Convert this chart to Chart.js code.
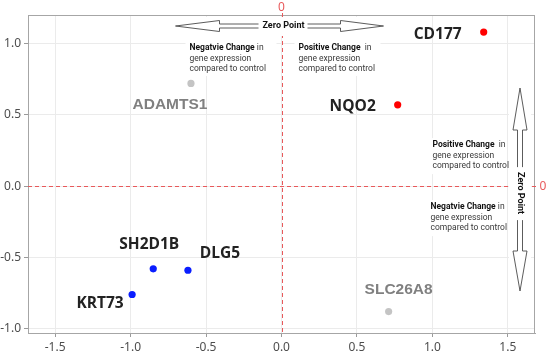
<!DOCTYPE html>
<html>
<head>
<meta charset="utf-8">
<script src="https://cdn.jsdelivr.net/npm/chart.js@4"></script>
<style>
    body { margin: 0; background: #fff; }
    canvas { display: block; }
</style>
</head>
<body>
<canvas id="geneChart" width="550" height="354"></canvas>
<script>
// Data
const genes = ["CD177", "NQO2", "ADAMTS1", "SH2D1B", "DLG5", "KRT73", "SLC26A8"];
const xValues = [1.34, 0.77, -0.60, -0.85, -0.62, -0.99, 0.71];
const yValues = [1.08, 0.57, 0.72, -0.58, -0.59, -0.76, -0.88];
const direction = ["up", "up", "none", "down", "down", "down", "none"];
const xTicks = [-1.5, -1.0, -0.5, 0.0, 0.5, 1.0, 1.5];
const yTicks = [-1.0, -0.5, 0.0, 0.5, 1.0];

// Styling
const dirColors = { up: "#ff0000", down: "#0a1eff", none: "#c4c4c4" };
const labelColors = { up: "#222", down: "#222", none: "#808080" };
// pixel offset of each gene label from its point
const labelOffsets = [[-46, 2], [-45, 2], [-21, 21], [-4, -24], [32, -17], [-32, 9], [10, -22]];

const ZERO_RED = "#e8595b";

function drawHollowArrow(ctx, x1, y1, x2, y2, shaft, head, headLen) {
    const len = Math.hypot(x2 - x1, y2 - y1);
    const ux = (x2 - x1) / len, uy = (y2 - y1) / len;
    const nx = -uy, ny = ux;
    const bx = x2 - ux * headLen, by = y2 - uy * headLen;
    ctx.beginPath();
    ctx.moveTo(x1 + nx * shaft, y1 + ny * shaft);
    ctx.lineTo(bx + nx * shaft, by + ny * shaft);
    ctx.lineTo(bx + nx * head, by + ny * head);
    ctx.lineTo(x2, y2);
    ctx.lineTo(bx - nx * head, by - ny * head);
    ctx.lineTo(bx - nx * shaft, by - ny * shaft);
    ctx.lineTo(x1 - nx * shaft, y1 - ny * shaft);
    ctx.fillStyle = "#fff";
    ctx.fill();
    ctx.strokeStyle = "#4a4a4a";
    ctx.lineWidth = 0.9;
    ctx.stroke();
}

function drawNote(ctx, x, y, boldPart, rest) {
    ctx.textAlign = "left";
    ctx.textBaseline = "middle";
    ctx.font = "bold 8.5px Roboto";
    ctx.fillStyle = "#111";
    ctx.fillText(boldPart, x, y);
    const w = ctx.measureText(boldPart).width;
    ctx.font = "8.5px Roboto";
    ctx.fillStyle = "#3a3a3a";
    ctx.fillText(rest, x + w, y);
    ctx.fillText("gene expression", x, y + 10.5);
    ctx.fillText("compared to control", x, y + 21);
}

const annotationPlugin = {
    id: "annotations",
    beforeDatasetsDraw(chart) {
        const { ctx, chartArea, scales } = chart;
        const x0 = scales.x.getPixelForValue(0);
        const y0 = scales.y.getPixelForValue(0);
        ctx.save();
        // top and right frame
        ctx.strokeStyle = "#a6a6a6";
        ctx.lineWidth = 1;
        ctx.beginPath();
        ctx.moveTo(chartArea.left, chartArea.top + 0.5);
        ctx.lineTo(chartArea.right, chartArea.top + 0.5);
        ctx.moveTo(chartArea.right - 0.5, chartArea.top);
        ctx.lineTo(chartArea.right - 0.5, chartArea.bottom);
        ctx.stroke();
        // red dashed zero lines
        ctx.strokeStyle = ZERO_RED;
        ctx.setLineDash([4, 3]);
        ctx.beginPath();
        ctx.moveTo(Math.round(x0) + 0.5, 13);
        ctx.lineTo(Math.round(x0) + 0.5, chartArea.bottom);
        ctx.moveTo(chartArea.left, Math.round(y0) + 0.5);
        ctx.lineTo(chartArea.right + 2, Math.round(y0) + 0.5);
        ctx.stroke();
        ctx.setLineDash([]);
        ctx.fillStyle = ZERO_RED;
        ctx.font = "12px 'Noto Sans'";
        ctx.textAlign = "center";
        ctx.textBaseline = "middle";
        ctx.fillText("0", x0, 8);
        ctx.fillText("0", chartArea.right + 8, y0);
        ctx.restore();
    },
    afterDatasetsDraw(chart) {
        const { ctx, chartArea, scales } = chart;
        const x0 = scales.x.getPixelForValue(0);
        const y0 = scales.y.getPixelForValue(0);
        const top = chartArea.top;
        const right = chartArea.right;
        ctx.save();

        // white boxes behind notes and arrows
        ctx.fillStyle = "#fff";
        ctx.fillRect(x0 - 108, top + 2, 214, 19);
        ctx.fillRect(x0 - 96, top + 21, 91, 40);
        ctx.fillRect(x0 + 13, top + 21, 86, 40);
        ctx.fillRect(right - 26, 84, 22, 212);
        ctx.fillRect(x0 + 147, y0 - 48, 78, 36);
        ctx.fillRect(x0 + 145, y0 + 14, 80, 36);

        // horizontal "Zero Point" arrow
        const ay = top + 11;
        drawHollowArrow(ctx, x0 - 23, ay, x0 - 106, ay, 2, 5.5, 44);
        drawHollowArrow(ctx, x0 + 26, ay, x0 + 102, ay, 2, 5.5, 43);
        ctx.fillStyle = "#111";
        ctx.font = "bold 9px Roboto";
        ctx.textAlign = "center";
        ctx.textBaseline = "middle";
        ctx.fillText("Zero Point", x0 + 2, ay);

        // vertical "Zero Point" arrow
        const ax = right - 15;
        drawHollowArrow(ctx, ax, y0 - 19, ax, 88, 2.5, 7, 42);
        drawHollowArrow(ctx, ax, y0 + 34, ax, 291, 2.5, 7, 40);
        ctx.save();
        ctx.translate(ax, y0 + 7);
        ctx.rotate(Math.PI / 2);
        ctx.fillStyle = "#111";
        ctx.fillText("Zero Point", 0, 0);
        ctx.restore();

        // notes
        drawNote(ctx, x0 - 92, top + 33, "Negatvie Change", " in");
        drawNote(ctx, x0 + 17, top + 33, "Positive Change", "  in");
        drawNote(ctx, x0 + 151, y0 - 41, "Positive Change", "  in");
        drawNote(ctx, x0 + 149, y0 + 21, "Negatvie Change", " in");

        // gene labels
        ctx.textAlign = "center";
        ctx.textBaseline = "middle";
        genes.forEach((gene, i) => {
            const px = scales.x.getPixelForValue(xValues[i]);
            const py = scales.y.getPixelForValue(yValues[i]);
            const d = direction[i];
            ctx.font = d === "none" ? "bold 15.5px 'Liberation Sans'" : "bold 15.5px 'Open Sans'";
            ctx.fillStyle = labelColors[d];
            ctx.fillText(gene, px + labelOffsets[i][0], py + labelOffsets[i][1]);
        });
        ctx.restore();
    },
};

const axisCommon = {
    type: "linear",
    grid: { color: "#ebebeb", tickColor: "#9a9a9a", tickLength: 4, lineWidth: 1 },
    border: { color: "#a6a6a6", width: 1 },
    ticks: {
        color: "#4d4d4d",
        font: { family: "Noto Sans", size: 12 },
        padding: 3,
        callback: (v) => Number(v).toFixed(1),
    },
};

new Chart(document.getElementById("geneChart").getContext("2d"), {
    type: "scatter",
    data: {
        datasets: [
            {
                data: genes.map((g, i) => ({ x: xValues[i], y: yValues[i] })),
                backgroundColor: direction.map((d) => dirColors[d]),
                borderWidth: 0,
                pointRadius: 3.6,
            },
        ],
    },
    options: {
        responsive: false,
        animation: false,
        layout: { padding: { top: 15, right: 15, left: 0, bottom: 0 } },
        plugins: { legend: { display: false }, tooltip: { enabled: false } },
        scales: {
            x: {
                ...axisCommon,
                min: -1.68,
                max: 1.68,
                afterBuildTicks: (s) => { s.ticks = xTicks.map((v) => ({ value: v })); },
                afterFit: (s) => { s.height = 21; },
            },
            y: {
                ...axisCommon,
                min: -1.03,
                max: 1.2,
                afterBuildTicks: (s) => { s.ticks = yTicks.map((v) => ({ value: v })); },
                afterFit: (s) => { s.width = 28; },
            },
        },
    },
    plugins: [annotationPlugin],
});
</script>
</body>
</html>
